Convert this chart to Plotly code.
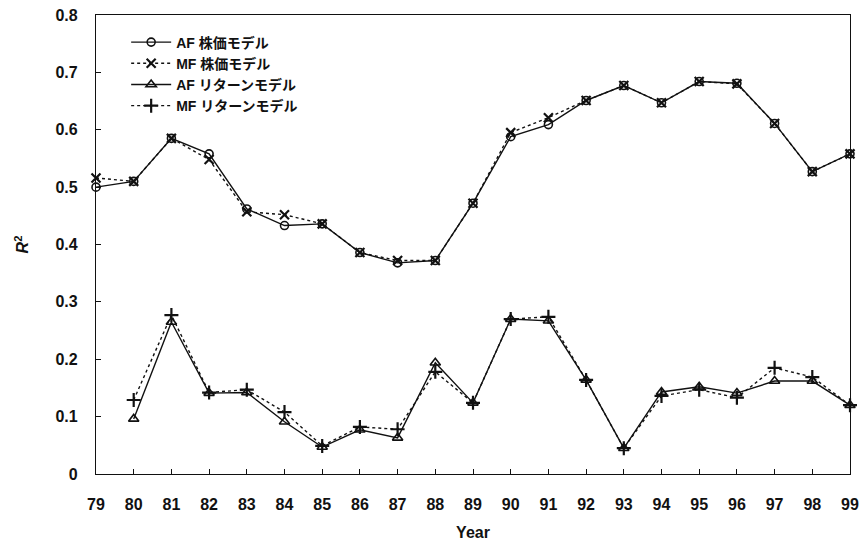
import plotly.graph_objects as go

years = list(range(79, 100))
years_ret = list(range(80, 100))

# R^2 of price models (1979-1999)
af_price = [0.500, 0.510, 0.585, 0.558, 0.462, 0.433, 0.436, 0.386, 0.368, 0.372,
            0.472, 0.588, 0.609, 0.651, 0.677, 0.647, 0.684, 0.681, 0.611, 0.527, 0.558]
mf_price = [0.516, 0.510, 0.585, 0.548, 0.457, 0.452, 0.436, 0.386, 0.372, 0.372,
            0.472, 0.595, 0.621, 0.651, 0.677, 0.647, 0.684, 0.680, 0.611, 0.527, 0.558]

# R^2 of return models (1980-1999)
af_return = [0.096, 0.265, 0.141, 0.142, 0.091, 0.047, 0.077, 0.063, 0.194, 0.124,
             0.270, 0.267, 0.164, 0.045, 0.143, 0.152, 0.141, 0.162, 0.162, 0.120]
mf_return = [0.129, 0.277, 0.142, 0.147, 0.108, 0.049, 0.082, 0.078, 0.178, 0.124,
             0.270, 0.274, 0.164, 0.045, 0.136, 0.147, 0.133, 0.185, 0.169, 0.120]

series_names = ["AF 株価モデル", "MF 株価モデル", "AF リターンモデル", "MF リターンモデル"]

y_tickvals = [0, 0.1, 0.2, 0.3, 0.4, 0.5, 0.6, 0.7, 0.8]
y_ticktext = ["0", "0.1", "0.2", "0.3", "0.4", "0.5", "0.6", "0.7", "0.8"]
x_ticktext = [str(y) for y in years]

FONT = "Liberation Sans, Arial, Noto Sans CJK JP, sans-serif"
BLACK = "#111111"

fig = go.Figure()

fig.add_trace(go.Scatter(
    x=years, y=af_price, name=series_names[0], mode="lines+markers",
    line=dict(color=BLACK, width=1.4),
    marker=dict(symbol="circle-open", size=8, color=BLACK, line=dict(width=1.6)),
    cliponaxis=False))
fig.add_trace(go.Scatter(
    x=years, y=mf_price, name=series_names[1], mode="lines+markers",
    line=dict(color=BLACK, width=1.4, dash="dot"),
    marker=dict(symbol="x-thin-open", size=9, color=BLACK, line=dict(width=2.2, color=BLACK)),
    cliponaxis=False))
fig.add_trace(go.Scatter(
    x=years_ret, y=af_return, name=series_names[2], mode="lines+markers",
    line=dict(color=BLACK, width=1.4),
    marker=dict(symbol="triangle-up-open", size=9, color=BLACK, line=dict(width=1.6)),
    cliponaxis=False))
fig.add_trace(go.Scatter(
    x=years_ret, y=mf_return, name=series_names[3], mode="lines+markers",
    line=dict(color=BLACK, width=1.4, dash="dot"),
    marker=dict(symbol="cross-thin-open", size=10, color=BLACK, line=dict(width=2.2, color=BLACK)),
    cliponaxis=False))

fig.update_layout(
    width=864, height=547,
    margin=dict(l=96, r=14, t=15, b=73),
    paper_bgcolor="white", plot_bgcolor="white",
    font=dict(family=FONT, color=BLACK, size=14, weight="bold"),
    showlegend=True,
    legend=dict(
        x=0.04, y=0.975, xanchor="left", yanchor="top",
        bgcolor="rgba(0,0,0,0)", borderwidth=0,
        font=dict(family=FONT, size=14, color=BLACK, weight="bold"),
        itemwidth=40, tracegroupgap=0,
    ),
    xaxis=dict(
        range=[79, 99], tickmode="array", tickvals=years, ticktext=x_ticktext,
        ticks="inside", ticklen=5, tickwidth=1, tickcolor=BLACK,
        showline=True, linecolor=BLACK, linewidth=1.2, mirror=True,
        showgrid=False, zeroline=False, ticklabelstandoff=16, automargin=False,
        tickfont=dict(family=FONT, size=16, color=BLACK, weight="bold"),
        title=dict(text="Year", font=dict(family=FONT, size=16, color=BLACK, weight="bold"),
                   standoff=14),
    ),
    yaxis=dict(
        range=[0, 0.8], tickmode="array", tickvals=y_tickvals, ticktext=y_ticktext,
        ticks="inside", ticklen=5, tickwidth=1, tickcolor=BLACK,
        showline=True, linecolor=BLACK, linewidth=1.2, mirror=True,
        showgrid=False, zeroline=False, ticklabelstandoff=14, automargin=False,
        tickfont=dict(family=FONT, size=16, color=BLACK, weight="bold"),
        title=dict(text="<i>R</i><sup>2</sup>", font=dict(family=FONT, size=16, color=BLACK, weight="bold"),
                   standoff=22),
    ),
)

fig.write_html("out.html")
